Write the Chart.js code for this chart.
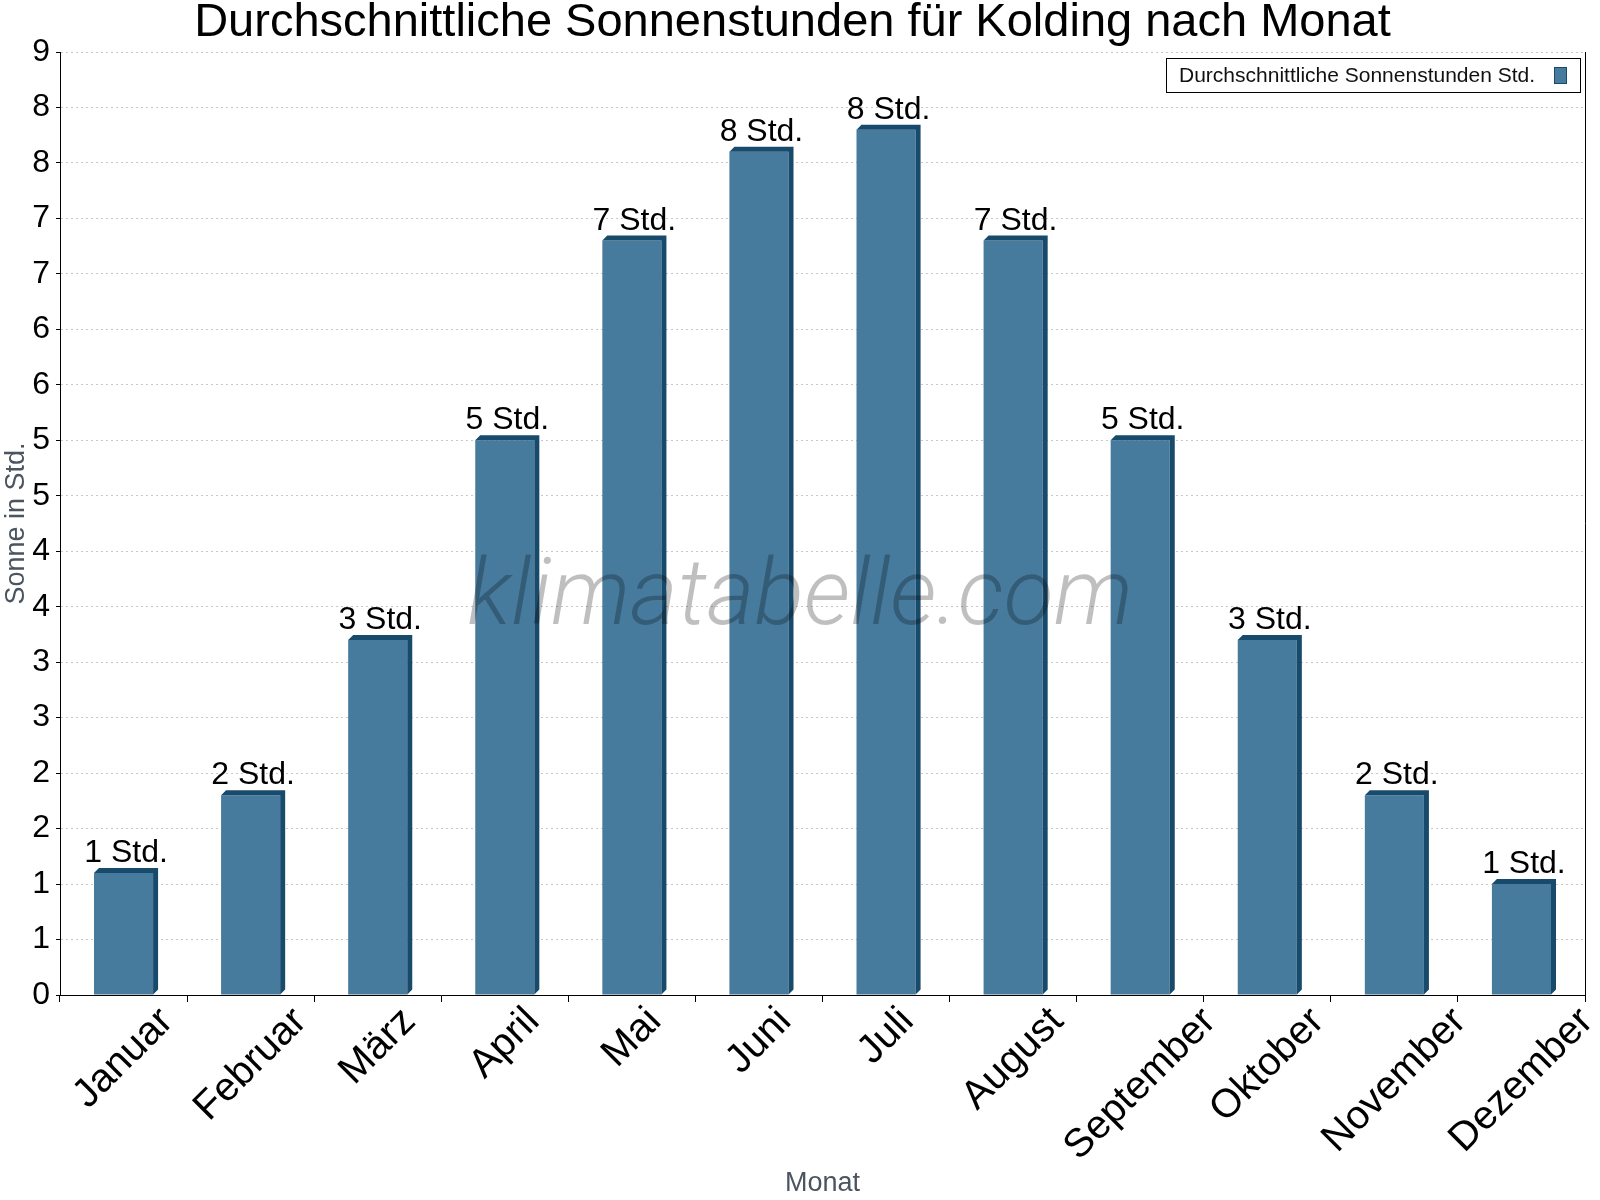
<!DOCTYPE html>
<html>
<head>
<meta charset="utf-8">
<script src="https://cdn.jsdelivr.net/npm/chart.js@4.4.1/dist/chart.umd.min.js"></script>
<style>
  html, body { margin: 0; padding: 0; background: #fff; }
  #wrap { width: 1600px; height: 1200px; }
</style>
</head>
<body>
<div id="wrap"><canvas id="chart" width="1600" height="1200"></canvas></div>
<script>
const months = ['Januar', 'Februar', 'März', 'April', 'Mai', 'Juni',
    'Juli', 'August', 'September', 'Oktober', 'November', 'Dezember'];
const sunHours = [1.1, 1.8, 3.2, 5.0, 6.8, 7.6, 7.8, 6.8, 5.0, 3.2, 1.8, 1.0];
const seriesName = 'Durchschnittliche Sonnenstunden Std.';
const titleText = 'Durchschnittliche Sonnenstunden für Kolding nach Monat';

const FONT = '"Liberation Sans", Arial, sans-serif';
const front = '#467b9e';
const dark = '#184a6b';
const depth = 5;

// 3D sides, value labels, month labels, legend box and watermark
const extras = {
    id: 'extras',
    afterDatasetsDraw(chart) {
        const ctx = chart.ctx;
        const area = chart.chartArea;
        const meta = chart.getDatasetMeta(0);
        ctx.save();
        meta.data.forEach((bar, i) => {
            const p = bar.getProps(['x', 'y', 'base', 'width'], true);
            const l = p.x - p.width / 2, r = p.x + p.width / 2;
            ctx.fillStyle = dark;
            ctx.beginPath();
            ctx.moveTo(l, p.y);
            ctx.lineTo(l + depth, p.y - depth);
            ctx.lineTo(r + depth, p.y - depth);
            ctx.lineTo(r + depth, p.base - depth);
            ctx.lineTo(r, p.base);
            ctx.lineTo(r, p.y);
            ctx.closePath();
            ctx.fill();

            ctx.fillStyle = '#000';
            ctx.font = '32px ' + FONT;
            ctx.textAlign = 'center';
            ctx.textBaseline = 'alphabetic';
            ctx.fillText(Math.round(sunHours[i]) + ' Std.', p.x + depth / 2, p.y - depth - 6);
        });

        // right frame line
        ctx.strokeStyle = '#000';
        ctx.lineWidth = 1;
        ctx.beginPath();
        ctx.moveTo(Math.round(area.right) + 0.5, area.top);
        ctx.lineTo(Math.round(area.right) + 0.5, area.bottom);
        ctx.stroke();

        // month labels, rotated 45 degrees
        const xs = chart.scales.x;
        ctx.font = '40px ' + FONT;
        ctx.fillStyle = '#000';
        ctx.textAlign = 'right';
        ctx.textBaseline = 'alphabetic';
        months.forEach((m, i) => {
            const cx = xs.getPixelForValue(i);
            const w = ctx.measureText(m).width;
            ctx.save();
            ctx.translate(cx + 8 + w * 0.7071 / 2, area.bottom + 28);
            ctx.rotate(-Math.PI / 4);
            ctx.fillText(m, 0, 0);
            ctx.restore();
        });

        // legend
        ctx.fillStyle = '#fff';
        ctx.fillRect(1166, 58, 414, 34);
        ctx.strokeStyle = '#000';
        ctx.strokeRect(1166.5, 58.5, 414, 34);
        ctx.fillStyle = '#111';
        ctx.font = '21px ' + FONT;
        ctx.textAlign = 'left';
        ctx.textBaseline = 'middle';
        ctx.fillText(seriesName, 1179, 76);
        ctx.fillStyle = front;
        ctx.fillRect(1554, 67, 13, 17);
        ctx.strokeStyle = dark;
        ctx.strokeRect(1554.5, 67.5, 12, 16);

        // watermark
        ctx.fillStyle = 'rgba(0,0,0,0.25)';
        ctx.font = 'italic 300 92px Roboto, ' + FONT;
        ctx.textAlign = 'center';
        ctx.textBaseline = 'alphabetic';
        ctx.fillText('klimatabelle.com', 800, 624);
        ctx.restore();
    }
};

new Chart(document.getElementById('chart'), {
    type: 'bar',
    data: {
        labels: months,
        datasets: [{
            label: seriesName,
            data: sunHours,
            backgroundColor: front,
            borderWidth: 0,
            barPercentage: 0.465,
            categoryPercentage: 1
        }]
    },
    options: {
        responsive: false,
        devicePixelRatio: 1,
        animation: false,
        layout: { padding: { top: 0, right: 15, bottom: 0, left: 0 } },
        plugins: {
            legend: { display: false },
            tooltip: { enabled: false },
            title: {
                display: true,
                text: titleText,
                color: '#000',
                font: { family: FONT, size: 47, weight: 'normal', lineHeight: 1 },
                padding: { top: 0, bottom: 5 }
            }
        },
        scales: {
            x: {
                afterFit: s => { s.height = 205; },
                ticks: { display: false },
                grid: {
                    offset: true,
                    drawOnChartArea: false,
                    drawTicks: true,
                    tickLength: 7,
                    tickColor: '#000'
                },
                border: { display: true, color: '#000', width: 1 },
                title: {
                    display: true,
                    text: 'Monat',
                    color: '#4a5560',
                    font: { family: FONT, size: 27 },
                    padding: { top: 0, bottom: 0 }
                }
            },
            y: {
                min: 0,
                max: 8.5,
                afterFit: s => { s.width = 60; },
                ticks: {
                    stepSize: 0.5,
                    color: '#000',
                    padding: 6,
                    font: { family: FONT, size: 32 },
                    callback: v => Math.round(v)
                },
                grid: {
                    color: '#c8c8c8',
                    tickColor: '#000',
                    tickLength: 4,
                    tickBorderDash: []
                },
                border: { display: true, color: '#000', width: 1, dash: [2, 3] },
                title: {
                    display: true,
                    text: 'Sonne in Std.',
                    color: '#4a5560',
                    font: { family: FONT, size: 27 },
                    padding: { top: 0, bottom: 0 }
                }
            }
        }
    },
    plugins: [extras]
});
</script>
</body>
</html>
